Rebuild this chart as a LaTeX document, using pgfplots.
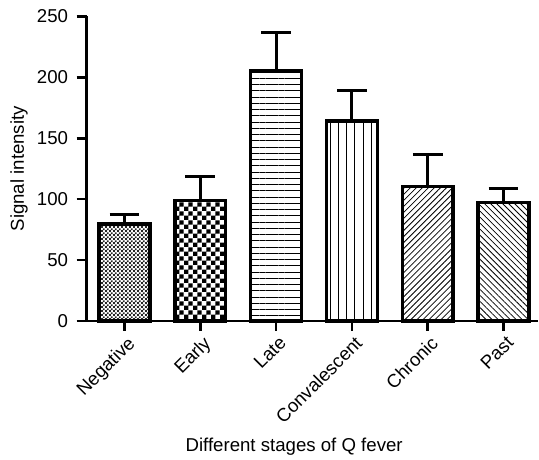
\documentclass[border=0pt]{standalone}
\usepackage{pgfplots}
\pgfplotsset{compat=1.18}
\usepackage{fontspec}
\setmainfont{Liberation Sans}
\usetikzlibrary{patterns,patterns.meta}

% checkerboards: coarse one for "Early", fine one for "Negative"
\pgfdeclarepatternformonly{bigchecker}{\pgfpointorigin}{\pgfpoint{6.6pt}{6.6pt}}{\pgfpoint{6.6pt}{6.6pt}}{%
  \pgfpathrectangle{\pgfpointorigin}{\pgfpoint{3.3pt}{3.3pt}}%
  \pgfpathrectangle{\pgfpoint{3.3pt}{3.3pt}}{\pgfpoint{3.3pt}{3.3pt}}%
  \pgfusepath{fill}}
\pgfdeclarepatternformonly{smallchecker}{\pgfpointorigin}{\pgfpoint{3.2pt}{3.2pt}}{\pgfpoint{3.2pt}{3.2pt}}{%
  \pgfpathrectangle{\pgfpointorigin}{\pgfpoint{1.6pt}{1.6pt}}%
  \pgfpathrectangle{\pgfpoint{1.6pt}{1.6pt}}{\pgfpoint{1.6pt}{1.6pt}}%
  \pgfusepath{fill}}

\begin{document}
\begin{tikzpicture}
\begin{axis}[
    scale only axis,
    width=339pt, height=229pt,
    xmin=-0.5, xmax=5.45,
    ymin=0, ymax=250,
    axis x line=bottom, axis y line=left,
    axis line style={line width=2pt, -},
    xtick={0,1,2,3,4,5},
    xticklabels={Negative,Early,Late,Convalescent,Chronic,Past},
    xticklabel style={rotate=45, anchor=north east, inner sep=1pt, yshift=-2pt},
    yticklabel style={xshift=-3pt},
    ytick={0,50,100,150,200,250},
    tick align=outside,
    major tick length=7.5pt,
    tick style={line width=2pt, black},
    /pgf/number format/assume math mode=true,
    ticklabel style={font=\fontsize{14}{16}\selectfont},
    xlabel={Different stages of Q fever},
    ylabel={Signal intensity},
    label style={font=\fontsize{14}{16}\selectfont},
    xlabel style={at={(ticklabel cs:0.46)}, anchor=near ticklabel, yshift=-5pt},
    clip=false,
    every axis plot/.append style={
        ybar, bar width=0.67, draw=black, line width=2.6pt,
        error bars/y dir=plus, error bars/y explicit,
        error bars/error mark=|,
        error bars/error bar style={line width=2.3pt, black},
        error bars/error mark options={line width=2.3pt, mark size=11.2pt, draw=black}
    },
]
\addplot[pattern=smallchecker, pattern color=black!85] coordinates {(0,79.5) +- (0,8.2)};
\addplot[pattern=bigchecker] coordinates {(1,99.0) +- (0,19.8)};
\addplot[pattern={Lines[angle=0, distance=4.7pt, line width=0.6pt]}] coordinates {(2,205.0) +- (0,31.6)};
\addplot[pattern={Lines[angle=90, distance=6.2pt, line width=0.6pt]}] coordinates {(3,164.0) +- (0,24.8)};
\addplot[pattern={Lines[angle=45, distance=3.2pt, line width=0.6pt]}] coordinates {(4,110.4) +- (0,26.2)};
\addplot[pattern={Lines[angle=-45, distance=3.2pt, line width=0.6pt]}] coordinates {(5,97.3) +- (0,11.7)};
\end{axis}
\path ([xshift=-4.5pt]current bounding box.west) ([yshift=4pt]current bounding box.north);
\end{tikzpicture}
\end{document}
